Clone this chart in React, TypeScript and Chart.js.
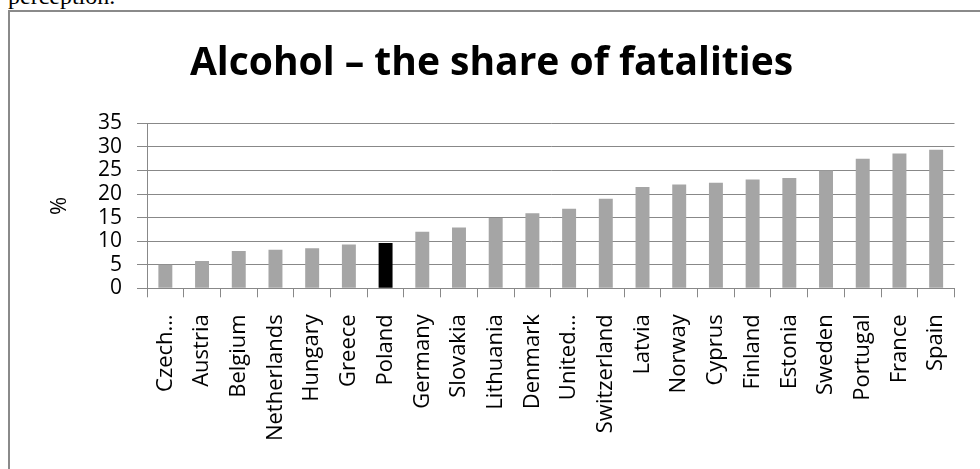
import React, { useEffect, useRef } from "react";
import { Chart, registerables } from "chart.js";

Chart.register(...registerables);

const categories = [
  "Czech…", "Austria", "Belgium", "Netherlands", "Hungary", "Greece", "Poland",
  "Germany", "Slovakia", "Lithuania", "Denmark", "United…", "Switzerland",
  "Latvia", "Norway", "Cyprus", "Finland", "Estonia", "Sweden", "Portugal",
  "France", "Spain",
];
const shares = [
  5.0, 5.8, 7.9, 8.2, 8.5, 9.3, 9.6, 12.0, 12.9, 14.9, 15.9, 16.9, 19.0,
  21.5, 22.0, 22.4, 23.1, 23.4, 25.0, 27.5, 28.6, 29.4,
];
const highlighted = "Poland";
const yMin = 0;
const yMax = 35;
const yStep = 5;
const titleText = "Alcohol – the share of fatalities";
const yAxisLabel = "%";

const FONT = "'Open Sans', 'DejaVu Sans', sans-serif";

export default function App() {
  const ref = useRef<HTMLCanvasElement | null>(null);

  useEffect(() => {
    if (!ref.current) return;
    const chart = new Chart(ref.current, {
      type: "bar",
      data: {
        labels: categories,
        datasets: [
          {
            data: shares,
            backgroundColor: categories.map((c) => (c === highlighted ? "#000000" : "#a5a5a5")),
            borderWidth: 0,
            categoryPercentage: 1,
            barPercentage: 0.38,
          },
        ],
      },
      options: {
        animation: false,
        responsive: false,
        maintainAspectRatio: false,
        layout: { padding: { left: 13, right: 20, top: 0, bottom: 0 } },
        plugins: {
          legend: { display: false },
          tooltip: { enabled: false },
          title: {
            display: true,
            text: titleText,
            color: "#000",
            font: { family: FONT, size: 39, weight: "bold", lineHeight: 1.2 },
            padding: { top: 28, bottom: 36.5 },
          },
        },
        scales: {
          x: {
            offset: true,
            grid: {
              display: true,
              drawOnChartArea: false,
              drawTicks: true,
              tickLength: 9,
              color: "#888888",
              lineWidth: 1,
              offset: true,
            },
            border: { display: true, color: "#888888", width: 1 },
            ticks: {
              autoSkip: false,
              minRotation: 90,
              maxRotation: 90,
              padding: 17,
              color: "#000",
              font: { family: FONT, size: 22 },
            },
            afterFit: (scale: any) => {
              scale.height = 180.7;
            },
          },
          y: {
            min: yMin,
            max: yMax,
            grid: {
              color: "#888888",
              lineWidth: 1,
              drawTicks: true,
              tickLength: 10,
            },
            border: { display: true, color: "#888888", width: 1 },
            ticks: {
              stepSize: yStep,
              autoSkip: false,
              padding: 15,
              color: "#000",
              font: { family: FONT, size: 21 },
            },
            title: {
              display: true,
              text: yAxisLabel,
              color: "#000",
              font: { family: FONT, size: 22, lineHeight: 1.2 },
              padding: { top: 24, bottom: 0 },
            },
            afterFit: (scale: any) => {
              scale.width = 124;
            },
          },
        },
      },
    });
    return () => chart.destroy();
  }, []);

  return (
    <>
      <div
        style={{
          position: "absolute",
          left: 8,
          top: -16,
          fontFamily: "'Liberation Serif', 'Times New Roman', serif",
          fontSize: 24,
          lineHeight: "24px",
          color: "#000",
          whiteSpace: "nowrap",
        }}
      >
        perception.
      </div>
      <div
        style={{
          position: "absolute",
          left: 8,
          top: 10,
          width: 972,
          height: 459,
          boxSizing: "border-box",
          borderTop: "2px solid #8a8a8a",
          borderLeft: "2px solid #8a8a8a",
          background: "#fff",
        }}
      />
      <canvas
        ref={ref}
        width={970}
        height={457}
        style={{ position: "absolute", left: 10, top: 12, width: 970, height: 457 }}
      />
    </>
  );
}
